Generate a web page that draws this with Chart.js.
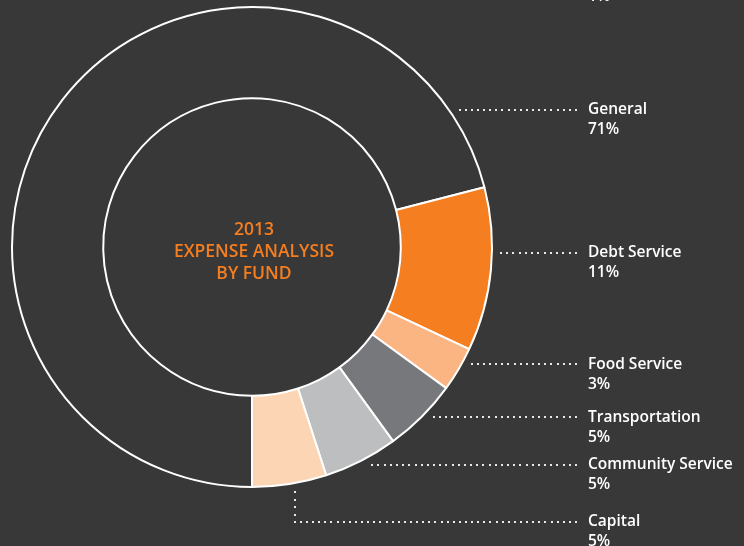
<!DOCTYPE html>
<html>
<head>
<meta charset="utf-8">
<title>2013 Expense Analysis by Fund</title>
<script src="https://cdn.jsdelivr.net/npm/chart.js@4.4.1/dist/chart.umd.min.js"></script>
<style>
  html, body { margin: 0; padding: 0; background: #383838; }
  #wrap { width: 744px; height: 546px; position: relative; overflow: hidden; }
  canvas { display: block; }
</style>
</head>
<body>
<div id="wrap"><canvas id="fundChart" width="744" height="546"></canvas></div>
<script>
// ---------- Dades ----------
const categories = ['General', 'Debt Service', 'Food Service', 'Transportation', 'Community Service', 'Capital'];
const shares = [71, 11, 3, 5, 5, 5];
const shareLabels = ['71%', '11%', '3%', '5%', '5%', '5%'];
const sliceColors = ['rgba(0,0,0,0)', '#f47e20', '#fbb583', '#77787b', '#bcbec0', '#fcd5b5'];
const centerTitle = ['2013', 'EXPENSE ANALYSIS', 'BY FUND'];

// ---------- Layout of the callouts ----------
const calloutY = [109.5, 252.5, 364.3, 417.3, 465, 522];
const calloutTextX = 588;
const calloutEndX = 576;
const labelFont = '600 15.5px "Open Sans", "DejaVu Sans", sans-serif';

// dotted leader, 2px dots every 6px
function dots(ctx, x1, y1, x2, y2) {
  const len = Math.hypot(x2 - x1, y2 - y1);
  const n = Math.floor(len / 6);
  for (let i = 0; i <= n; i++) {
    const t = n ? i / n : 0;
    ctx.fillRect(Math.round(x1 + (x2 - x1) * t) - 1, Math.round(y1 + (y2 - y1) * t) - 1, 2, 2);
  }
}

const calloutPlugin = {
  id: 'callouts',
  afterDraw(chart) {
    const ctx = chart.ctx;
    const arcs = chart.getDatasetMeta(0).data;
    ctx.save();
    arcs.forEach((arc, i) => {
      const { x, y, outerRadius, startAngle, endAngle } = arc.getProps(['x', 'y', 'outerRadius', 'startAngle', 'endAngle'], true);
      const R = outerRadius + 9;
      const ly = calloutY[i];
      const dy = ly - y;
      ctx.fillStyle = '#e8e8e8';
      if (Math.abs(dy) < R - 4) {
        const sx = x + Math.sqrt(R * R - dy * dy);
        dots(ctx, sx, ly, calloutEndX, ly);
      } else {
        // elbow leader for slices at the bottom
        const a = startAngle + (endAngle - startAngle) * 0.45;
        const ex = x + R * Math.cos(a);
        const ey = y + R * Math.sin(a);
        dots(ctx, ex, ey, ex, ly);
        dots(ctx, ex, ly, calloutEndX, ly);
      }
      ctx.fillStyle = '#ffffff';
      ctx.font = labelFont;
      ctx.textAlign = 'left';
      ctx.textBaseline = 'middle';
      ctx.fillText(categories[i], calloutTextX, ly);
      ctx.fillText(shareLabels[i], calloutTextX, ly + 20);
    });
    // bit of a label cut off by the top edge
    ctx.fillStyle = '#ffffff';
    ctx.font = labelFont;
    ctx.textBaseline = 'middle';
    ctx.fillText('1%', calloutTextX, -3);

    // title in the hole
    const c = arcs[0];
    ctx.fillStyle = '#f47e20';
    ctx.font = '600 17.5px "Open Sans", "DejaVu Sans", sans-serif';
    ctx.textAlign = 'center';
    centerTitle.forEach((t, k) => {
      ctx.fillText(t, c.x + 2, c.y + 5 + (k - 1) * 22);
    });
    ctx.restore();
  }
};

new Chart(document.getElementById('fundChart'), {
  type: 'doughnut',
  data: {
    labels: categories,
    datasets: [{
      data: shares,
      backgroundColor: sliceColors,
      borderColor: '#ffffff',
      borderWidth: 2,
      hoverOffset: 0
    }]
  },
  options: {
    responsive: false,
    animation: false,
    rotation: 180,
    cutout: '62%',
    layout: { padding: { left: 11, top: 6, right: 251, bottom: 58 } },
    plugins: {
      legend: { display: false },
      tooltip: { enabled: false }
    }
  },
  plugins: [calloutPlugin]
});
</script>
</body>
</html>
